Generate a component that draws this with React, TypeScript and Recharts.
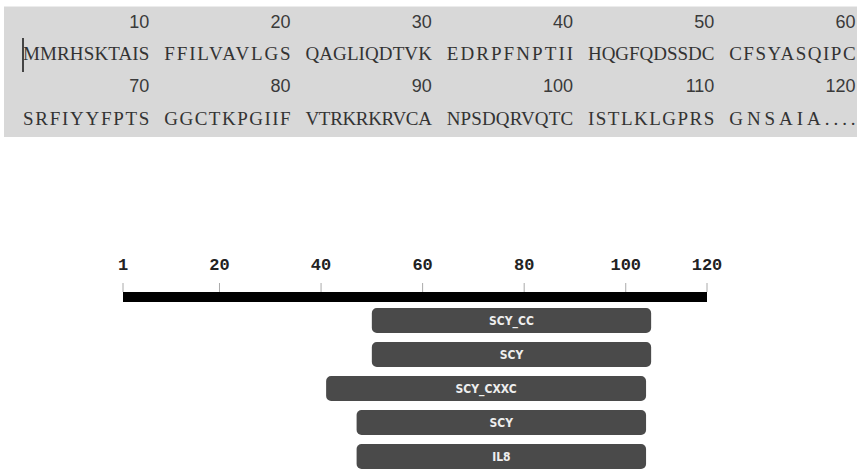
import React from "react";
import { BarChart, Bar, XAxis, YAxis, LabelList } from "recharts";

// sequence panel
const seqBlocks = [
  "MMRHSKTAIS", "FFILVAVLGS", "QAGLIQDTVK", "EDRPFNPTII", "HQGFQDSSDC", "CFSYASQIPC",
  "SRFIYYFPTS", "GGCTKPGIIF", "VTRKRKRVCA", "NPSDQRVQTC", "ISTLKLGPRS", "GNSAIA....",
];
const seqNumbers = [10, 20, 30, 40, 50, 60, 70, 80, 90, 100, 110, 120];
const blocksPerLine = 6;

// domain diagram
const sequenceLength = 116;
const rulerTicks = [1, 20, 40, 60, 80, 100, 116];
const rulerTickLabels = ["1", "20", "40", "60", "80", "100", "120"];
const domainNames = ["SCY_CC", "SCY", "SCY_CXXC", "SCY", "IL8"];
const domainStarts = [50, 50, 41, 47, 47];
const domainEnds = [105, 105, 104, 104, 104];

const domains = domainNames.map((name, i) => ({
  id: `d${i}`,
  name,
  range: [domainStarts[i], domainEnds[i]],
}));

const CHAR_W = 12.84;
const SEQ_X = 23;

function SequencePanel() {
  const lines = [0, 1].map((l) => ({
    blocks: seqBlocks.slice(l * blocksPerLine, (l + 1) * blocksPerLine),
    nums: seqNumbers.slice(l * blocksPerLine, (l + 1) * blocksPerLine),
  }));
  return (
    <svg width={857} height={140} style={{ position: "absolute", left: 0, top: 0 }}>
      <rect x={4} y={6} width={853} height={131} fill="#d8d8d8" />
      <line x1={4} x2={857} y1={6.5} y2={6.5} stroke="#ececec" />
      {lines.map((ln, l) => (
        <g key={l}>
          {ln.nums.map((n, k) => (
            <text
              key={n}
              x={SEQ_X + (11 * k + 10) * CHAR_W - 2}
              y={28 + l * 64}
              textAnchor="end"
              fontFamily="'Liberation Sans', Arial, sans-serif"
              fontSize={18}
              fill="#3a3a3a"
            >
              {n}
            </text>
          ))}
          {ln.blocks.map((b, k) => {
            // the last block ends in dots, which are narrow: keep natural spacing per char
            const n = b.length;
            return (
              <text
                key={k}
                x={SEQ_X + 11 * k * CHAR_W}
                y={60 + l * 65}
                fontFamily="'Liberation Serif', 'Times New Roman', serif"
                fontSize={19}
                fill="#333"
                textLength={n * CHAR_W - 2}
                lengthAdjust="spacing"
              >
                {b}
              </text>
            );
          })}
        </g>
      ))}
      <line x1={23} x2={23} y1={38} y2={72} stroke="#444" strokeWidth={2} />
    </svg>
  );
}

function RulerTick(props: any) {
  const { x, y, payload } = props;
  const label = rulerTickLabels[rulerTicks.indexOf(payload.value)];
  return (
    <g>
      <line x1={x} x2={x} y1={y - 14} y2={y - 5} stroke="#aaa" />
      <text
        x={x}
        y={y - 27}
        textAnchor="middle"
        fontFamily="'Liberation Mono', 'Courier New', monospace"
        fontWeight="bold"
        fontSize={17}
        fill="#222"
      >
        {label}
      </text>
    </g>
  );
}

export default function App() {
  return (
    <div
      style={{
        position: "absolute",
        left: 0,
        top: 0,
        width: 857,
        height: 469,
        overflow: "hidden",
        background: "#fff",
      }}
    >
      <SequencePanel />
      <div style={{ position: "absolute", left: 0, top: 0 }}>
        <BarChart
          width={857}
          height={473}
          data={domains}
          layout="vertical"
          margin={{ top: 247, right: 150, bottom: 0, left: 123 }}
        >
          <XAxis
            type="number"
            orientation="top"
            domain={[1, sequenceLength]}
            ticks={rulerTicks}
            interval={0}
            height={50}
            allowDataOverflow
            axisLine={{ stroke: "#000", strokeWidth: 10 }}
            tickLine={false}
            tickSize={0}
            tickMargin={0}
            tick={<RulerTick />}
          />
          <YAxis type="category" dataKey="id" hide padding={{ top: 6, bottom: 0 }} />
          <Bar dataKey="range" fill="#4a4a4a" barSize={25} radius={5} isAnimationActive={false}>
            <LabelList
              dataKey="name"
              position="center"
              fill="#eeeeee"
              fontSize={12}
              fontWeight="bold"
              fontFamily="'DejaVu Sans Condensed', 'DejaVu Sans', sans-serif"
            />
          </Bar>
        </BarChart>
      </div>
    </div>
  );
}
